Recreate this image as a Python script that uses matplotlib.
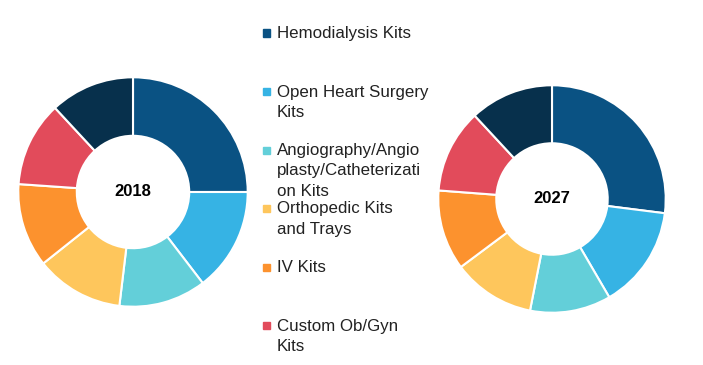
import matplotlib.pyplot as plt
from matplotlib.patches import Rectangle

plt.rcParams['font.family'] = ['Liberation Sans Narrow', 'Liberation Sans', 'DejaVu Sans']

segments = ['Hemodialysis Kits', 'Open Heart Surgery\nKits',
            'Angiography/Angio\nplasty/Catheterizati\non Kits',
            'Orthopedic Kits\nand Trays', 'IV Kits', 'Custom Ob/Gyn\nKits', 'Others']
colors = ['#0A5283', '#36B3E4', '#63CFD9', '#FEC65C', '#FC922E', '#E24B5B', '#07304C']
share_2018 = [25.0, 14.6, 12.3, 12.4, 11.8, 12.0, 11.9]
share_2027 = [27.0, 14.6, 11.5, 11.7, 11.4, 11.9, 11.9]

W, H = 703, 365
fig = plt.figure(figsize=(W / 100, H / 100), dpi=100)

def donut(cx, cy, r, values, year):
    ax = fig.add_axes([(cx - r) / W, (H - cy - r) / H, 2 * r / W, 2 * r / H])
    ax.pie(values, colors=colors, startangle=90, counterclock=False,
           wedgeprops=dict(width=0.51, edgecolor='white', linewidth=1.5))
    ax.text(0, 0, year, ha='center', va='center', fontsize=12, fontweight='bold',
            family=['Liberation Sans', 'DejaVu Sans'])
    ax.set_xlim(-1.02, 1.02)
    ax.set_ylim(-1.02, 1.02)
    ax.set_aspect('equal')
    ax.axis('off')

donut(133, 192, 117, share_2018, '2018')
donut(552, 199, 116, share_2027, '2027')

# legend (only first six entries fit in the picture)
for i in range(6):
    yc = 33 + 58.5 * i
    fig.patches.append(Rectangle((263 / W, 1 - (yc + 3.5) / H), 7 / W, 7 / H,
                                 transform=fig.transFigure, color=colors[i]))
    fig.text(277 / W, 1 - (yc - 7) / H, segments[i], ha='left', va='top',
             fontsize=12.2, color='#222222', linespacing=1.45)

fig.savefig('out.png', dpi=100)
